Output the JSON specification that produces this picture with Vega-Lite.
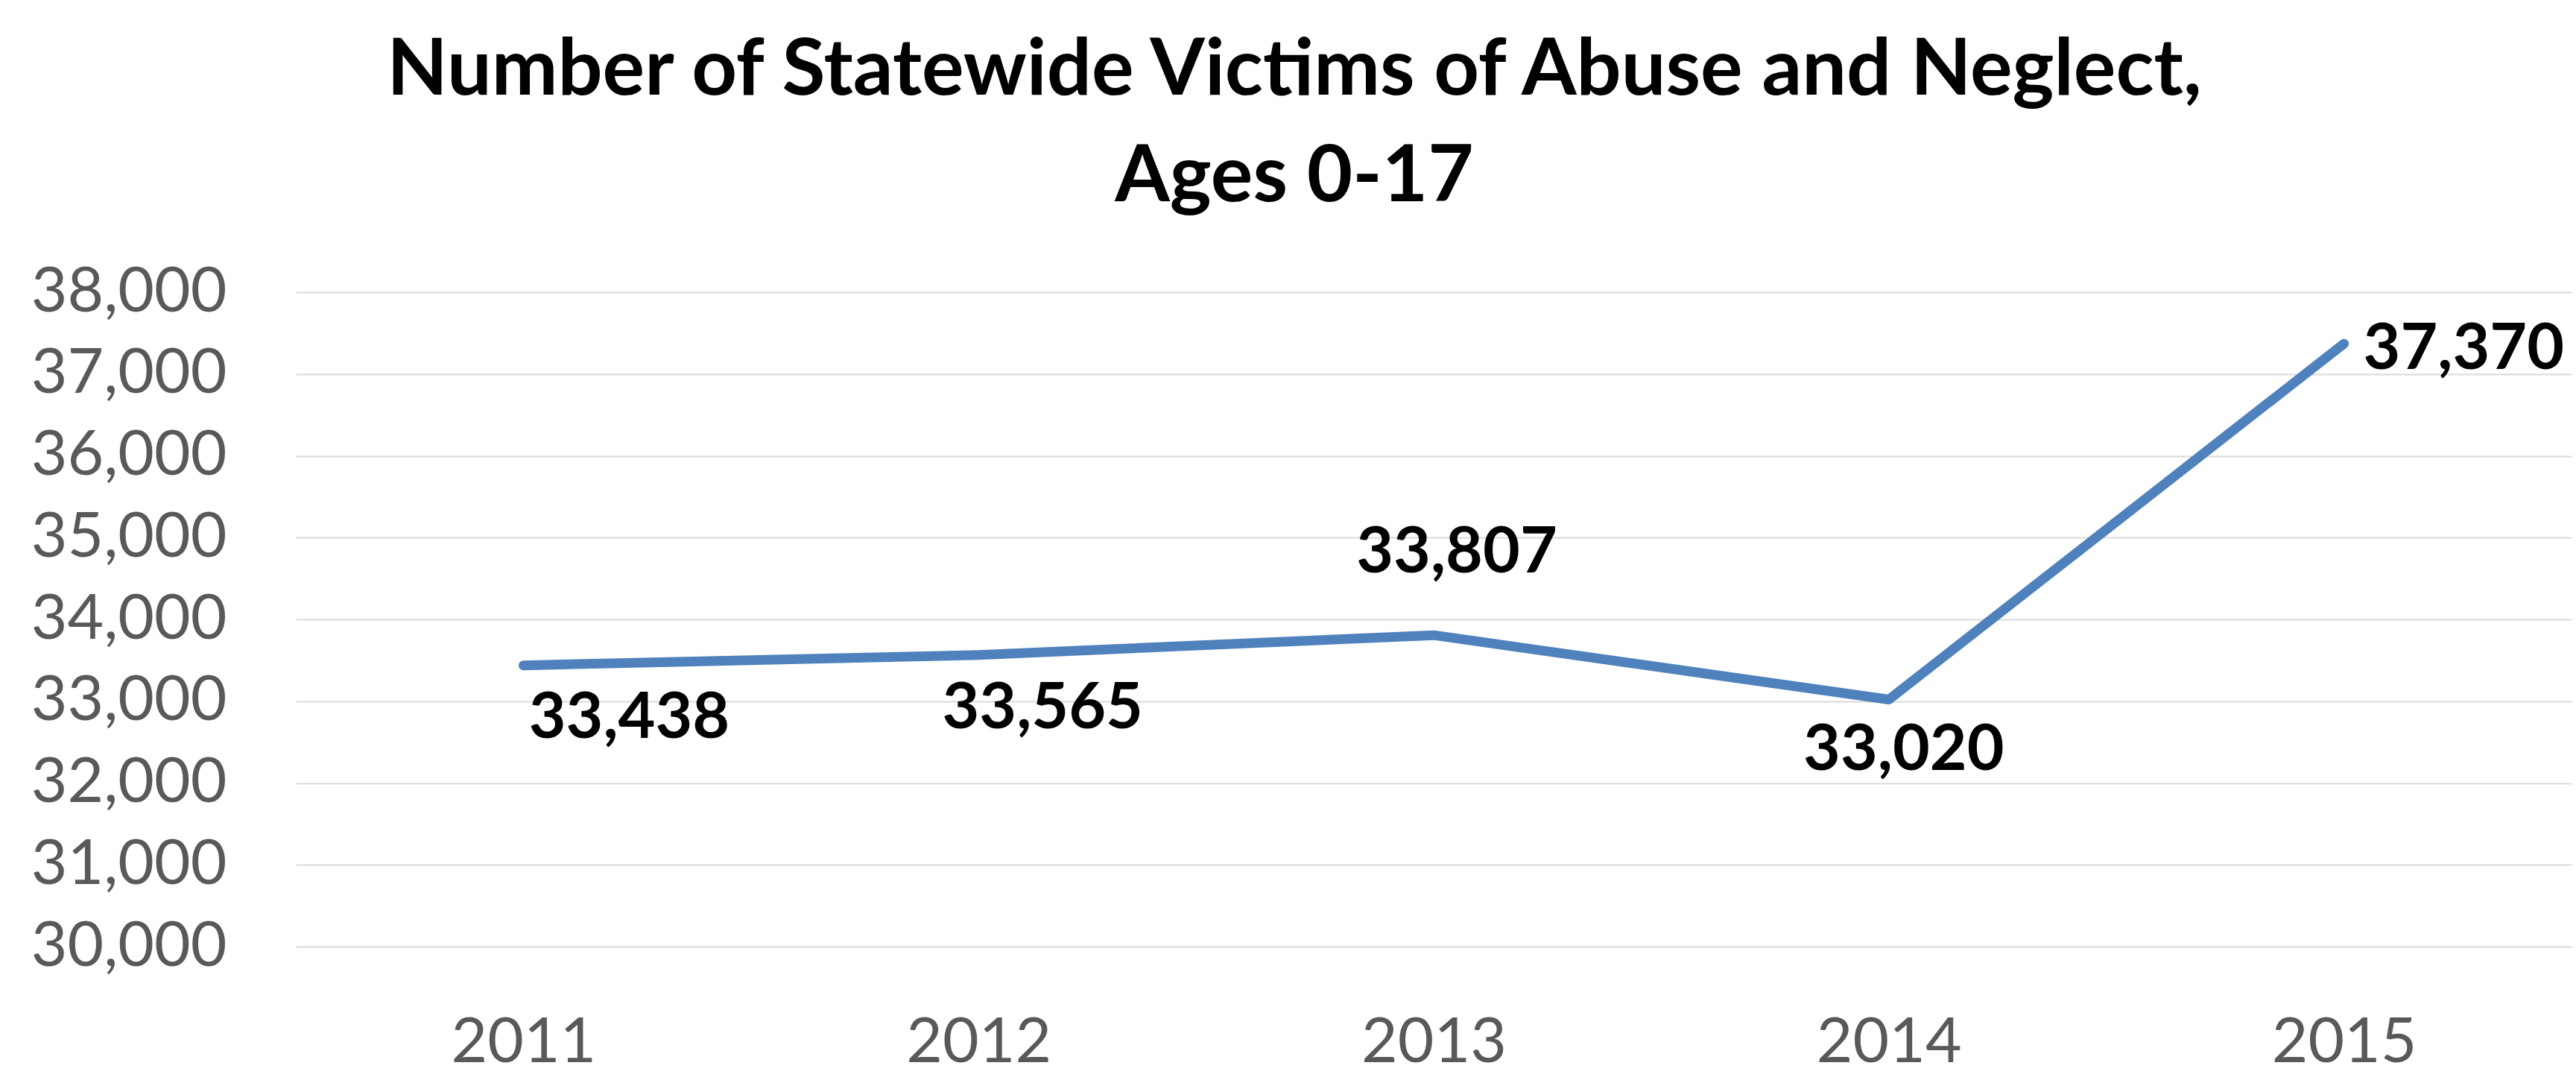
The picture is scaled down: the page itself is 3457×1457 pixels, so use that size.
{
  "$schema": "https://vega.github.io/schema/vega-lite/v6.json",
  "autosize": {"type": "none"},
  "width": 3054,
  "height": 878,
  "padding": {"left": 397, "top": 392, "right": 6, "bottom": 187},
  "background": "white",
  "data": {"values": [
    {"year": "2011", "victims": 33438},
    {"year": "2012", "victims": 33565},
    {"year": "2013", "victims": 33807},
    {"year": "2014", "victims": 33020},
    {"year": "2015", "victims": 37370}
  ]},
  "title": {
    "text": ["Number of Statewide Victims of Abuse and Neglect,", "Ages 0-17"],
    "font": "Lato",
    "fontWeight": "bold",
    "fontSize": 106,
    "color": "black",
    "lineHeight": 143,
    "anchor": "middle",
    "dx": -187,
    "offset": 58
  },
  "config": {
    "view": {"stroke": null},
    "axis": {"labelFont": "Lato", "labelColor": "#595959", "labelFontSize": 84, "labelLimit": 0, "ticks": false, "domain": false, "title": null}
  },
  "encoding": {
    "x": {"field": "year", "type": "ordinal", "scale": {"type": "point", "padding": 0.5},
      "axis": {"labelAngle": 0, "labelBaseline": "alphabetic", "labelPadding": 154, "grid": false}},
    "y": {"field": "victims", "type": "quantitative", "scale": {"domain": [30000, 38000], "nice": false, "zero": false},
      "axis": {"values": [30000, 31000, 32000, 33000, 34000, 35000, 36000, 37000, 38000], "format": ",d", "labelPadding": 93, "grid": true, "gridColor": "#d9d9d9", "gridWidth": 2}}
  },
  "layer": [
    {"mark": {"type": "line", "color": "#4f81bd", "strokeWidth": 13, "strokeCap": "round", "strokeJoin": "round"}},
    {"transform": [{"filter": "datum.year == '2011'"}],
     "mark": {"type": "text", "font": "Lato", "fontWeight": "bold", "fontSize": 86, "color": "black", "align": "center", "baseline": "alphabetic", "dx": 142, "dy": 97},
     "encoding": {"text": {"field": "victims", "type": "quantitative", "format": ",d"}}},
    {"transform": [{"filter": "datum.year == '2012'"}],
     "mark": {"type": "text", "font": "Lato", "fontWeight": "bold", "fontSize": 86, "color": "black", "align": "center", "baseline": "alphabetic", "dx": 86, "dy": 98},
     "encoding": {"text": {"field": "victims", "type": "quantitative", "format": ",d"}}},
    {"transform": [{"filter": "datum.year == '2013'"}],
     "mark": {"type": "text", "font": "Lato", "fontWeight": "bold", "fontSize": 86, "color": "black", "align": "center", "baseline": "alphabetic", "dx": 31, "dy": -84},
     "encoding": {"text": {"field": "victims", "type": "quantitative", "format": ",d"}}},
    {"transform": [{"filter": "datum.year == '2014'"}],
     "mark": {"type": "text", "font": "Lato", "fontWeight": "bold", "fontSize": 86, "color": "black", "align": "center", "baseline": "alphabetic", "dx": 20, "dy": 94},
     "encoding": {"text": {"field": "victims", "type": "quantitative", "format": ",d"}}},
    {"transform": [{"filter": "datum.year == '2015'"}],
     "mark": {"type": "text", "font": "Lato", "fontWeight": "bold", "fontSize": 86, "color": "black", "align": "left", "baseline": "alphabetic", "dx": 26, "dy": 34},
     "encoding": {"text": {"field": "victims", "type": "quantitative", "format": ",d"}}}
  ]
}
